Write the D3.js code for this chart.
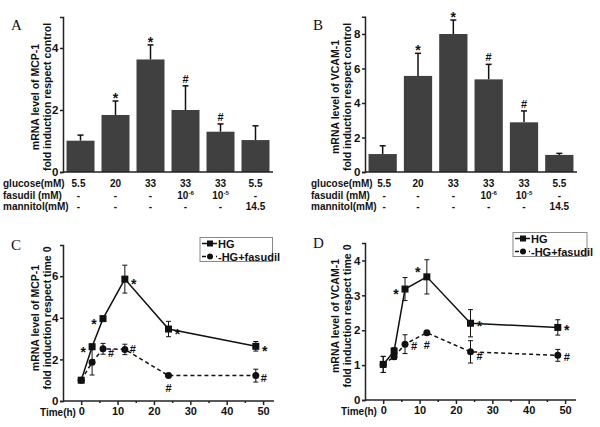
<!DOCTYPE html>
<html>
<head>
<meta charset="utf-8">
<style>
  body { margin: 0; background: #fff; }
  svg { display: block; font-family: 'Liberation Sans', Arial, sans-serif; }
  .axis path, .axis line { stroke: #222; stroke-width: 1.5px; }
  .axis text { font-size: 11.5px; font-weight: bold; fill: #111; }
  .lab { font-size: 10.5px; font-weight: bold; fill: #111; }
  .tab { font-size: 10px; font-weight: bold; fill: #111; }
  .letter { font-family: 'Liberation Serif', serif; font-size: 15px; fill: #111; }
  .mark { font-weight: bold; fill: #111; }
</style>
</head>
<body>
<svg width="600" height="427"></svg>
<script src="https://d3js.org/d3.v7.min.js"></script>
<script>
// bar panels (A, B)
const glucose  = ["5.5", "20", "33", "33", "33", "5.5"];
const fasudil  = ["-", "-", "-", "10|-6", "10|-5", "-"];
const mannitol = ["-", "-", "-", "-", "-", "14.5"];
const rowNames = ["glucose(mM)", "fasudil (mM)", "mannitol(mM)"];

const mcpBar     = [1.01, 1.84, 3.63, 2.00, 1.30, 1.03];
const mcpBarErr  = [0.18, 0.45, 0.47, 0.78, 0.25, 0.46];
const vcamBar    = [1.04, 5.57, 8.00, 5.37, 2.88, 0.99];
const vcamBarErr = [0.48, 1.31, 0.81, 0.87, 0.66, 0.09];
const barMarks   = ["", "*", "*", "#", "#", ""];

// time course panels (C, D)
const hours = [0, 3, 6, 12, 24, 48];
const mcpHG     = [1.00, 2.61, 3.96, 5.86, 3.46, 2.63];
const mcpHGErr  = [0.05, 0.12, 0.12, 0.67, 0.37, 0.23];
const mcpFas    = [1.00, 1.86, 2.51, 2.48, 1.22, 1.22];
const mcpFasErr = [0.05, 0.61, 0.26, 0.25, 0.03, 0.31];
const vcamHG     = [1.02, 1.40, 3.18, 3.53, 2.20, 2.08];
const vcamHGErr  = [0.23, 0.10, 0.33, 0.49, 0.39, 0.22];
const vcamFas    = [1.02, 1.24, 1.60, 1.93, 1.38, 1.28];
const vcamFasErr = [0.23, 0.08, 0.27, 0.04, 0.32, 0.17];
const mcpHGMarks   = ["", "*", "*", "*", "*", "*"];
const mcpFasMarks  = ["", "", "#", "#", "#", "#"];
const vcamHGMarks  = ["", "", "*", "*", "*", "*"];
const vcamFasMarks = ["", "", "#", "#", "#", "#"];
const seriesNames = ["HG", "HG+fasudil"];

const svg = d3.select("svg");
const ink = "#111";
const barFill = "#404040";

function yLabel(g, cx, cy, lines) {
  lines.forEach((t, i) => {
    g.append("text").attr("class", "lab")
      .attr("transform", `translate(${cx + i * 12},${cy}) rotate(-90)`)
      .attr("text-anchor", "middle")
      .attr("dy", "0.35em")
      .text(t);
  });
}

function barPanel(o) {
  const g = svg.append("g");
  const x = d3.scaleBand().domain(d3.range(o.values.length))
    .range([o.x0, o.x1]).paddingInner(0.2).paddingOuter(0.1);
  const y = d3.scaleLinear().domain([0, o.ymax]).range([o.y0, o.y1]);

  // error bars (upper only)
  o.values.forEach((v, i) => {
    const cx = x(i) + x.bandwidth() / 2;
    g.append("line").attr("x1", cx).attr("x2", cx)
      .attr("y1", y(v)).attr("y2", y(v + o.err[i]))
      .attr("stroke", ink).attr("stroke-width", 1.5);
    g.append("line").attr("x1", cx - 3).attr("x2", cx + 3)
      .attr("y1", y(v + o.err[i])).attr("y2", y(v + o.err[i]))
      .attr("stroke", ink).attr("stroke-width", 1.5);
    if (o.marks[i]) {
      g.append("text").attr("class", "mark")
        .attr("x", cx).attr("y", y(v + o.err[i]) - (o.marks[i] == "*" ? -2 : 3))
        .attr("text-anchor", "middle")
        .style("font-size", o.marks[i] == "*" ? "14px" : "11px")
        .text(o.marks[i]);
    }
  });

  g.selectAll("rect.bar").data(o.values).join("rect")
    .attr("class", "bar")
    .attr("x", (d, i) => x(i)).attr("width", x.bandwidth())
    .attr("y", d => y(d)).attr("height", d => y(0) - y(d))
    .attr("fill", barFill);

  g.append("g").attr("class", "axis")
    .attr("transform", `translate(${o.x0},0)`)
    .call(d3.axisLeft(y).tickValues(o.ticks).tickSize(3).tickPadding(1.5).tickFormat(d3.format("d")));
  g.append("line").attr("x1", o.x0).attr("x2", o.x1)
    .attr("y1", y(0)).attr("y2", y(0)).attr("stroke", "#222").attr("stroke-width", 1.5);

  // condition table
  const rows = [glucose, fasudil, mannitol];
  rows.forEach((r, ri) => {
    const ty = o.tableY + ri * 11.5;
    g.append("text").attr("class", "tab").attr("x", o.rowX).attr("y", ty).text(rowNames[ri]);
    r.forEach((s, i) => {
      const t = g.append("text").attr("class", "tab")
        .attr("x", x(i) + x.bandwidth() / 2 - (i == 0 ? o.firstShift : 0)).attr("y", ty)
        .attr("text-anchor", "middle");
      if (s.includes("|")) {
        const [b, e] = s.split("|");
        t.append("tspan").text(b);
        t.append("tspan").attr("dy", -4).style("font-size", "6px").text(e);
      } else {
        t.text(s);
      }
    });
  });

  yLabel(g, o.labX, o.labY, o.label);
  g.append("text").attr("class", "letter").attr("x", o.letterX).attr("y", o.letterY).text(o.letter);
}

function linePanel(o) {
  const g = svg.append("g");
  const x = d3.scaleLinear().domain([-5, 53]).range([o.x0, o.x1]);
  const y = d3.scaleLinear().domain([0, o.ymax]).range([o.y0, o.y1]);

  g.append("g").attr("class", "axis")
    .attr("transform", `translate(${o.x0},0)`)
    .call(d3.axisLeft(y).tickValues(o.ticks).tickSize(3).tickPadding(1.5).tickFormat(d3.format("d")));
  g.append("g").attr("class", "axis")
    .attr("transform", `translate(0,${o.y0})`)
    .call(d3.axisBottom(x).tickValues([0, 10, 20, 30, 40, 50]).tickSize(4).tickPadding(2))
    .call(a => a.selectAll(".tick text").style("font-size", "11px"))
    .call(a => a.select(".domain").attr("d", `M${o.x0},0H${o.x1}`));
  g.append("g").attr("class", "axis minor")
    .attr("transform", `translate(0,${o.y0})`)
    .call(d3.axisBottom(x).tickValues([5, 15, 25, 35, 45]).tickSize(2).tickFormat(""))
    .call(a => a.select(".domain").remove());

  g.append("text").attr("class", "tab").attr("x", o.timeX).attr("y", o.y0 + 15)
    .text("Time(h)");

  const series = [
    { v: o.hg, e: o.hgErr, m: o.hgMarks, off: o.hgOff, dash: null, sym: "sq" },
    { v: o.fas, e: o.fasErr, m: o.fasMarks, off: o.fasOff, dash: "4,3", sym: "ci" }
  ];
  const line = d3.line().x((d, i) => x(hours[i])).y(d => y(d));

  series.forEach(s => {
    s.v.forEach((v, i) => {
      const cx = x(hours[i]);
      g.append("line").attr("x1", cx).attr("x2", cx)
        .attr("y1", y(v - s.e[i])).attr("y2", y(v + s.e[i]))
        .attr("stroke", ink).attr("stroke-width", 1);
      [v - s.e[i], v + s.e[i]].forEach(b => {
        g.append("line").attr("x1", cx - 2.5).attr("x2", cx + 2.5)
          .attr("y1", y(b)).attr("y2", y(b)).attr("stroke", ink).attr("stroke-width", 1);
      });
    });
    g.append("path").datum(s.v).attr("d", line)
      .attr("fill", "none").attr("stroke", ink).attr("stroke-width", 1.5)
      .attr("stroke-dasharray", s.dash);
    s.v.forEach((v, i) => {
      const cx = x(hours[i]), cy = y(v);
      if (s.sym == "sq") {
        g.append("rect").attr("x", cx - 3.5).attr("y", cy - 3.5).attr("width", 7).attr("height", 7).attr("fill", ink);
      } else {
        g.append("circle").attr("cx", cx).attr("cy", cy).attr("r", 3.5).attr("fill", ink);
      }
      if (s.m[i]) {
        const [dx, dy] = s.off[i];
        g.append("text").attr("class", "mark")
          .attr("x", cx + dx).attr("y", cy + dy).attr("text-anchor", "middle")
          .style("font-size", s.m[i] == "*" ? "14px" : "11px")
          .text(s.m[i]);
      }
    });
  });

  // legend
  const L = o.legend;
  g.append("rect").attr("x", L.x).attr("y", L.y).attr("width", L.w).attr("height", L.h)
    .attr("fill", "#fff").attr("stroke", "#888").attr("stroke-width", 1);
  series.forEach((s, i) => {
    const ly = L.y + 6 + i * 13;
    g.append("line").attr("x1", L.x + 2).attr("x2", L.x + 17).attr("y1", ly).attr("y2", ly)
      .attr("stroke", ink).attr("stroke-width", 1.5).attr("stroke-dasharray", s.dash);
    if (s.sym == "sq") {
      g.append("rect").attr("x", L.x + 7).attr("y", ly - 3).attr("width", 6).attr("height", 6).attr("fill", ink);
    } else {
      g.append("circle").attr("cx", L.x + 10).attr("cy", ly).attr("r", 3).attr("fill", ink);
    }
    g.append("text").attr("class", "lab").attr("x", L.x + 18).attr("y", ly + 4)
      .style("font-size", "11px").text((i ? "-" : "") + seriesNames[i]);
  });

  yLabel(g, o.labX, o.labY, o.label);
  g.append("text").attr("class", "letter").attr("x", o.letterX).attr("y", o.letterY).text(o.letter);
}

barPanel({
  values: mcpBar, err: mcpBarErr, marks: barMarks, ymax: 5, ticks: [0, 2, 4],
  x0: 63, x1: 273, y0: 172, y1: 17, tableY: 187, rowX: 3, firstShift: 2,
  labX: 35, labY: 97, label: ["mRNA level of MCP-1", "fold induction respect control"],
  letter: "A", letterX: 11, letterY: 30
});
barPanel({
  values: vcamBar, err: vcamBarErr, marks: barMarks, ymax: 9, ticks: [0, 2, 4, 6, 8],
  x0: 365, x1: 577, y0: 172, y1: 16.75, tableY: 187, rowX: 311, firstShift: -1.5,
  labX: 335.5, labY: 97, label: ["mRNA level of VCAM-1", "fold induction respect control"],
  letter: "B", letterX: 313, letterY: 30
});
linePanel({
  hg: mcpHG, hgErr: mcpHGErr, hgMarks: mcpHGMarks,
  fas: mcpFas, fasErr: mcpFasErr, fasMarks: mcpFasMarks,
  hgOff: [[0, 0], [-9, 10], [-9, 10], [9, 10], [9, 10], [9, 10]],
  fasOff: [[0, 0], [0, 0], [8, 8], [8, 4], [0, 16], [8, 6]],
  ymax: 7.5, ticks: [0, 2, 4, 6],
  x0: 63, x1: 274, y0: 401, y1: 245, timeX: 40,
  legend: { x: 200, y: 237.5, w: 72.5, h: 24 },
  labX: 35.5, labY: 318, label: ["mRNA level of MCP-1", "fold induction respect time 0"],
  letter: "C", letterX: 11, letterY: 250
});
linePanel({
  hg: vcamHG, hgErr: vcamHGErr, hgMarks: vcamHGMarks,
  fas: vcamFas, fasErr: vcamFasErr, fasMarks: vcamFasMarks,
  hgOff: [[0, 0], [0, 0], [-9, 10], [-9, 0], [9, 8], [9, 8]],
  fasOff: [[0, 0], [0, 0], [9, 6], [0, 16], [9, 8], [9, 6]],
  ymax: 4.5, ticks: [0, 1, 2, 3, 4],
  x0: 365, x1: 576, y0: 400, y1: 243, timeX: 341,
  legend: { x: 513, y: 232.5, w: 74, h: 24 },
  labX: 335.5, labY: 316, label: ["mRNA level of VCAM-1", "fold induction respect time 0"],
  letter: "D", letterX: 313, letterY: 248
});
</script>
</body>
</html>
